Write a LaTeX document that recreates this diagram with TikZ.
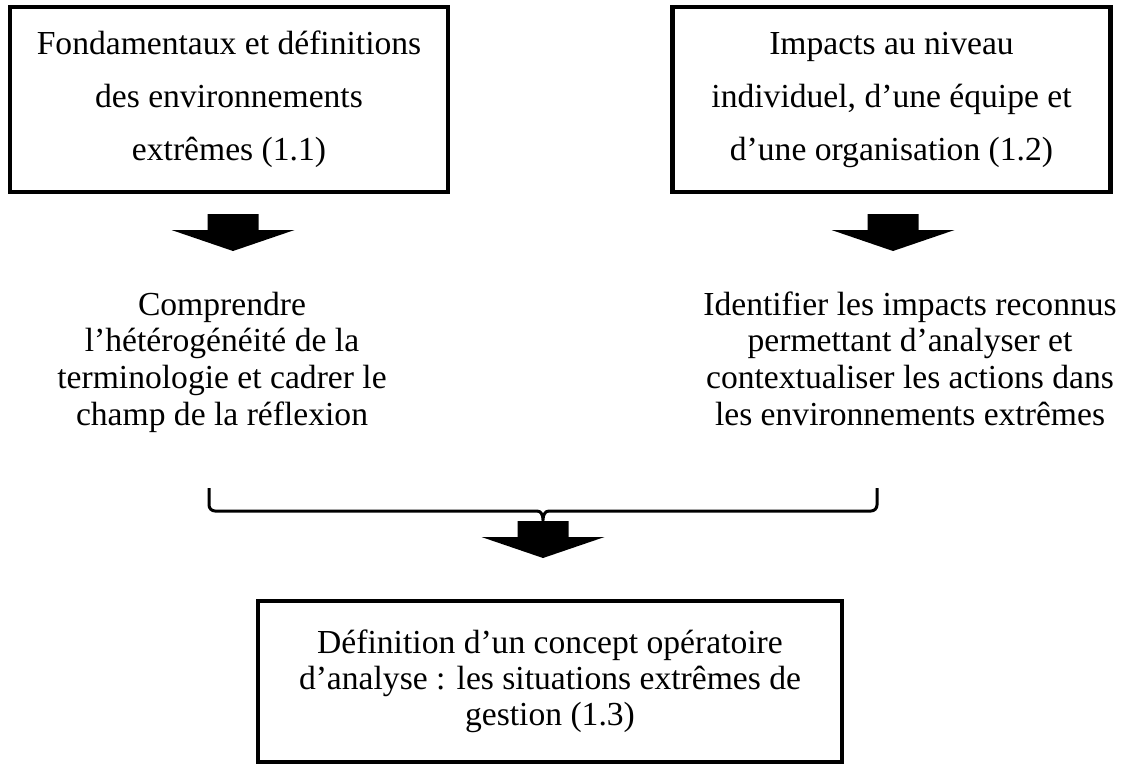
\documentclass[tikz,border=0pt]{standalone}
\usepackage{fontspec}
\setmainfont{Liberation Serif}
\newcommand{\blockarrowat}[1]{\fill[blockarrow] (#1) -- ++(-61.5,-21) -- ++(36,0) -- ++(0,-16) -- ++(51,0) -- ++(0,16) -- ++(36,0) -- cycle;}
\begin{document}
\begin{tikzpicture}[x=1pt, y=-1pt,
  box/.style={draw, line width=4.5pt, inner sep=0pt, align=center},
  topbox/.style={box, minimum width=438pt, minimum height=185pt, font=\fontsize{33.6}{53}\selectfont},
  note/.style={align=center, inner sep=0pt, font=\fontsize{33.6}{36.7}\selectfont},
  blockarrow/.style={fill=black},
  bracket/.style={line width=3pt}]
\useasboundingbox (0,0) rectangle (1131,764);
% boxes
\node[topbox] (fond) at (229,99.5) {Fondamentaux et définitions\\des environnements\\extrêmes (1.1)};
\node[topbox] (impacts) at (891.5,99.5) {Impacts au niveau\\individuel, d’une équipe et\\d’une organisation (1.2)};
\node[note] (compr) at (222,362) {Comprendre\\l’hétérogénéité de la\\terminologie et cadrer le\\champ de la réflexion};
\node[note] (ident) at (910,358.5) {Identifier les impacts reconnus\\permettant d’analyser et\\contextualiser les actions dans\\les environnements extrêmes};
\node[box, minimum width=584pt, minimum height=161pt, font=\fontsize{33.6}{36}\selectfont] (defin) at (550,681.5) {Définition d’un concept opératoire\\d’analyse : les situations extrêmes de\\gestion (1.3)};
% block arrows
\coordinate (tipL) at (233,251);
\coordinate (tipR) at (893,251);
\coordinate (tipB) at (543,558);
\blockarrowat{tipL}
\blockarrowat{tipR}
\blockarrowat{tipB}
% bracket joining both notes
\draw[bracket] (209,488) -- (209,505) arc[start angle=180, end angle=90, radius=6] -- (537,511)
  .. controls (541,511) and (543,515) .. (543,520)
  .. controls (543,515) and (545,511) .. (549,511) -- (871,511)
  arc[start angle=90, end angle=0, radius=6] -- (877,488);
\end{tikzpicture}
\end{document}
